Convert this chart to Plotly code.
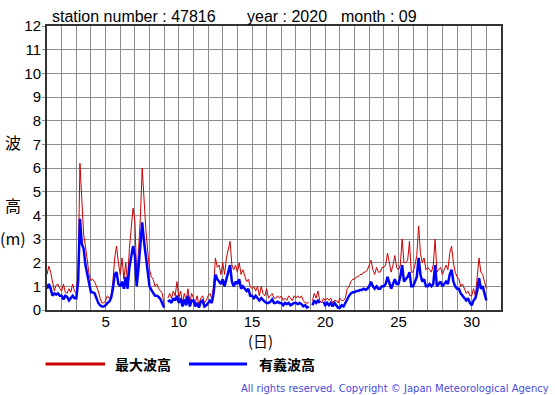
import plotly.graph_objects as go

# 3-hourly readings (hours 0,3,...,21) for Sept 1..30, plus final point at day 31 0h
max_wave = [
    1.5, 1.85, 1.6, 1.2, 0.8, 1.05, 1.1, 0.9,      # 1
    0.8, 1.1, 0.75, 0.7, 0.9, 0.75, 1.1, 0.8,      # 2
    0.7, 1.6, 6.2, 4.7, 3.2, 2.7, 2.2, 1.5,        # 3
    1.25, 1.3, 1.2, 1.0, 0.8, 0.5, 0.3, 0.3,       # 4
    0.4, 0.6, 0.5, 0.6, 1.2, 2.2, 2.7, 2.0,        # 5
    1.5, 2.2, 1.3, 2.0, 1.2, 2.6, 3.5, 4.3,        # 6
    3.8, 1.4, 2.5, 3.9, 6.0, 4.6, 3.4, 2.5,        # 7
    1.7, 1.4, 1.3, 1.0, 1.1, 0.9, 0.8, 0.7,        # 8
    0.2, None, 0.5, 0.7, 0.5, 0.8, 0.6, 1.2,       # 9
    0.5, 0.8, 0.3, 0.7, 0.4, 0.9, 0.3, 0.7,        # 10
    0.5, 0.3, 0.6, 0.2, 0.5, 0.6, 0.3, 0.4,        # 11
    0.6, 0.7, 0.5, 1.0, 2.2, 1.8, 1.9, 1.5,        # 12
    2.0, 1.5, 2.2, 2.6, 2.9, 1.9, 1.7, 1.9,        # 13
    1.6, 2.0, 1.5, 1.7, 1.4, 1.2, 1.3, 1.0,        # 14
    0.9, 1.0, 0.8, 1.0, 0.6, 1.0, 0.7, 0.6,        # 15
    0.9, 0.5, 0.6, 0.7, 0.5, 0.5, 0.6, 0.5,        # 16
    0.6, 0.4, 0.5, 0.4, 0.6, 0.5, 0.4, 0.6,        # 17
    0.5, 0.6, 0.5, 0.6, 0.4, 0.3, 0.3, 0.3,        # 18
    None, 0.4, 0.7, 0.5, 0.8, 0.4, 0.3, 0.5,       # 19
    0.4, 0.5, 0.4, 0.5, 0.3, 0.4, 0.4, 0.3,        # 20
    0.5, 0.4, 0.4, 0.5, 0.9, 1.0, 1.2, 1.3,        # 21
    1.3, 1.4, 1.4, 1.5, 1.5, 1.6, 1.6, 1.7,        # 22
    1.9, 2.1, 1.7, 1.5, 1.8, 1.6, 1.6, 1.8,        # 23
    1.8, 1.9, 2.4, 1.9, 1.6, 1.9, 2.3, 1.8,        # 24
    1.7, 1.9, 3.0, 2.0, 2.0, 2.1, 2.9, 1.6,        # 25
    1.6, 1.9, 2.3, 3.55, 2.4, 2.0, 2.2, 1.7,       # 26
    1.8, 1.7, 1.6, 1.9, 3.0, 1.6, 1.7, 1.8,        # 27
    1.5, 1.7, 1.9, 1.7, 2.4, 2.7, 2.0, 1.6,        # 28
    1.4, 1.3, 1.0, 1.1, 0.9, 0.7, 0.8, 0.6,        # 29
    0.6, 0.9, 0.6, 1.5, 2.2, 1.6, 1.5, 1.2,        # 30
    0.9,
]

sig_wave = [
    0.9, 1.1, 0.9, 0.6, 0.7, 0.65, 0.7, 0.6,       # 1
    0.6, 0.45, 0.6, 0.55, 0.4, 0.5, 0.6, 0.5,      # 2
    0.5, 1.2, 3.85, 2.8, 2.6, 1.9, 1.5, 1.0,       # 3
    0.75, 0.75, 0.7, 0.5, 0.3, 0.2, 0.15, 0.15,    # 4
    0.2, 0.3, 0.35, 0.5, 0.9, 1.5, 1.6, 1.1,       # 5
    1.0, 1.2, 0.9, 1.4, 0.9, 1.8, 2.3, 2.7,        # 6
    2.3, 1.0, 1.8, 2.7, 3.7, 2.9, 2.2, 1.6,        # 7
    1.0, 0.85, 0.75, 0.6, 0.6, 0.55, 0.45, 0.3,    # 8
    0.1, None, 0.35, 0.4, 0.3, 0.5, 0.4, 0.6,      # 9
    0.3, 0.5, 0.15, 0.45, 0.2, 0.6, 0.15, 0.4,     # 10
    0.4, 0.15, 0.3, 0.1, 0.35, 0.4, 0.15, 0.2,     # 11
    0.3, 0.4, 0.3, 0.7, 1.5, 1.3, 1.2, 1.1,        # 12
    1.3, 1.0, 1.3, 1.6, 1.9, 1.2, 1.0, 1.2,        # 13
    1.1, 1.3, 0.9, 1.0, 0.9, 0.8, 0.9, 0.6,        # 14
    0.6, 0.5, 0.6, 0.5, 0.4, 0.5, 0.4, 0.35,       # 15
    0.3, 0.3, 0.35, 0.45, 0.3, 0.3, 0.35, 0.3,     # 16
    0.3, 0.2, 0.3, 0.25, 0.3, 0.2, 0.25, 0.3,      # 17
    0.3, 0.25, 0.3, 0.25, 0.15, 0.2, 0.1, 0.15,    # 18
    None, 0.2, 0.4, 0.3, 0.4, 0.3, None, 0.35,     # 19
    0.2, 0.3, 0.2, 0.3, 0.15, 0.3, 0.2, 0.1,       # 20
    0.1, 0.2, 0.15, 0.3, 0.5, 0.6, 0.7, 0.75,      # 21
    0.75, 0.8, 0.8, 0.85, 0.85, 0.9, 0.85, 0.9,    # 22
    1.0, 1.2, 1.0, 0.9, 1.0, 0.9, 0.9, 1.0,        # 23
    1.0, 1.1, 1.4, 1.1, 0.9, 1.1, 1.3, 1.1,        # 24
    1.1, 1.4, 1.9, 1.2, 1.3, 1.4, 1.6, 1.0,        # 25
    1.0, 1.2, 1.4, 2.2, 1.5, 1.2, 1.3, 1.0,        # 26
    1.0, 1.1, 1.0, 1.1, 1.9, 1.0, 1.1, 1.2,        # 27
    1.0, 1.1, 1.2, 1.1, 1.5, 1.7, 1.2, 1.0,        # 28
    0.9, 0.9, 0.7, 0.6, 0.5, 0.4, 0.5, 0.3,        # 29
    0.2, 0.4, 0.5, 0.8, 1.35, 0.9, 1.0, 0.7,       # 30
    0.4,
]

samples_per_day = 8
times = [1 + i / samples_per_day for i in range(len(max_wave))]

day_ticks = list(range(1, 33))
day_labels = [str(d) if d % 5 == 0 and d <= 30 else "" for d in day_ticks]
y_ticks = list(range(0, 13))

LATIN = "Liberation Sans, Arial, Helvetica, sans-serif"
CJK = "Noto Sans CJK JP, sans-serif"

fig = go.Figure()
fig.add_trace(go.Scatter(x=times, y=max_wave, mode="lines",
                         line=dict(color="#CC0000", width=1), connectgaps=False,
                         name="最大波高"))
fig.add_trace(go.Scatter(x=times, y=sig_wave, mode="lines",
                         line=dict(color="#0000FF", width=2.5), connectgaps=False,
                         name="有義波高"))

L, R, T, B = 47, 54, 26, 85
W, H = 555, 395
PW, PH = W - L - R, H - T - B

def px(x):
    return (x - L) / PW

def py(y):
    return (H - B - y) / PH

fig.update_layout(
    width=W, height=H,
    margin=dict(l=L, r=R, t=T, b=B, pad=0),
    paper_bgcolor="white", plot_bgcolor="white",
    showlegend=False, hovermode=False,
    font=dict(family=LATIN, size=15, color="black"),
    xaxis=dict(range=[1, 32], tickvals=day_ticks, ticktext=day_labels,
               showgrid=True, gridcolor="#8c8c8c", gridwidth=1,
               showline=True, linecolor="#333333", linewidth=2, mirror=True,
               ticks="", zeroline=False, ticklabelstandoff=-3,
               tickfont=dict(size=15, family=LATIN)),
    yaxis=dict(range=[0, 12], tickvals=y_ticks,
               showgrid=True, gridcolor="#8c8c8c", gridwidth=1,
               showline=True, linecolor="#333333", linewidth=2, mirror=True,
               ticks="outside", ticklen=3, tickcolor="#8c8c8c",
               zeroline=False, ticklabelstandoff=-2,
               tickfont=dict(size=15, family=LATIN)),
)

ann = []
def add_text(text, x, y, size, family, xanchor="center", color="black", bold=False):
    t = f"<b>{text}</b>" if bold else text
    ann.append(dict(text=t, x=px(x), y=py(y), xref="paper", yref="paper",
                    xanchor=xanchor, yanchor="middle", showarrow=False,
                    font=dict(size=size, family=family, color=color)))

add_text("station number : 47816", 50, 16, 16, LATIN, xanchor="left")
add_text("year : 2020", 245, 16, 16, LATIN, xanchor="left")
add_text("month : 09", 339, 16, 16, LATIN, xanchor="left")
add_text("波", 13, 142, 16, CJK)
add_text("高", 13, 205, 16, CJK)
add_text("(m)", 13, 238, 16, CJK)
add_text("(日)", 260, 340.5, 15, CJK)
add_text("最大波高", 143, 364, 14, CJK, bold=True)
add_text("有義波高", 286.5, 364, 14, CJK, bold=True)
add_text("All rights reserved. Copyright © Japan Meteorological Agency",
         551, 388, 10, "DejaVu Sans, sans-serif", xanchor="right", color="#4a4ae0")
fig.update_layout(annotations=ann)

fig.add_shape(type="line", xref="paper", yref="paper",
              x0=px(45.5), x1=px(105), y0=py(364), y1=py(364),
              line=dict(color="#CC0000", width=3))
fig.add_shape(type="line", xref="paper", yref="paper",
              x0=px(189), x1=px(247), y0=py(364), y1=py(364),
              line=dict(color="#0000FF", width=3))

fig.write_html("out.html", config={"displayModeBar": False, "staticPlot": True},
               post_script="document.body.style.margin='0';document.body.style.overflow='hidden';")
